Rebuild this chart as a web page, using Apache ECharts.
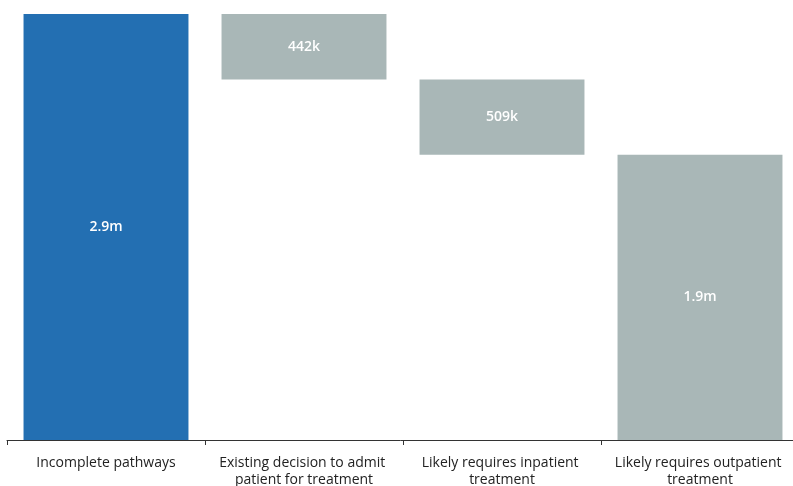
<!DOCTYPE html>
<html>
<head>
<meta charset="utf-8">
<script src="https://cdn.jsdelivr.net/npm/echarts@6/dist/echarts.min.js"></script>
<style>
  html, body { margin: 0; padding: 0; background: #ffffff; }
  #chart { width: 793px; height: 486px; }
</style>
</head>
<body>
<div id="chart"></div>
<script>
// Waterfall: total incomplete pathways split into three components (thousands)
const categories = [
  'Incomplete pathways',
  'Existing decision to admit patient for treatment',
  'Likely requires inpatient treatment',
  'Likely requires outpatient treatment'
];
const components = [442, 509, 1925];
const valueLabels = ['2.9m', '442k', '509k', '1.9m'];

const total = components.reduce((a, b) => a + b, 0);

// Visible bar heights and invisible offsets that float each component
const heights = [total].concat(components);
const offsets = [0];
let running = total;
components.forEach((v) => { running -= v; offsets.push(running); });

const BLUE = '#236fb2';
const GREY = '#a9b7b7';
const FONT = 'Open Sans, Liberation Sans, Arial, sans-serif';

const chart = echarts.init(document.getElementById('chart'), null, { renderer: 'canvas' });
chart.setOption({
  animation: false,
  grid: {
    left: 7, width: 792, top: 14, bottom: 46,
    containLabel: false,
    outerBoundsMode: 'none'
  },
  xAxis: {
    type: 'category',
    data: categories,
    axisLine: { show: true, lineStyle: { color: '#333333', width: 1 } },
    axisTick: { show: true, alignWithLabel: false, length: 5, lineStyle: { color: '#333333' } },
    axisLabel: {
      interval: 0,
      margin: 15,
      width: 185,
      overflow: 'break',
      color: '#222222',
      fontFamily: FONT,
      fontSize: 14,
      lineHeight: 17
    }
  },
  yAxis: {
    type: 'value',
    min: 0,
    max: total,
    show: false,
    splitLine: { show: false }
  },
  series: [
    {
      type: 'bar',
      stack: 'w',
      data: offsets,
      itemStyle: { color: 'transparent' },
      silent: true,
      barCategoryGap: '16.7%'
    },
    {
      type: 'bar',
      stack: 'w',
      data: heights.map((v, i) => ({
        value: v,
        itemStyle: { color: i === 0 ? BLUE : GREY }
      })),
      barCategoryGap: '16.7%',
      label: {
        show: true,
        position: 'inside',
        color: '#ffffff',
        fontFamily: FONT,
        fontWeight: 600,
        fontSize: 14,
        formatter: (p) => valueLabels[p.dataIndex]
      }
    }
  ]
});
</script>
</body>
</html>
